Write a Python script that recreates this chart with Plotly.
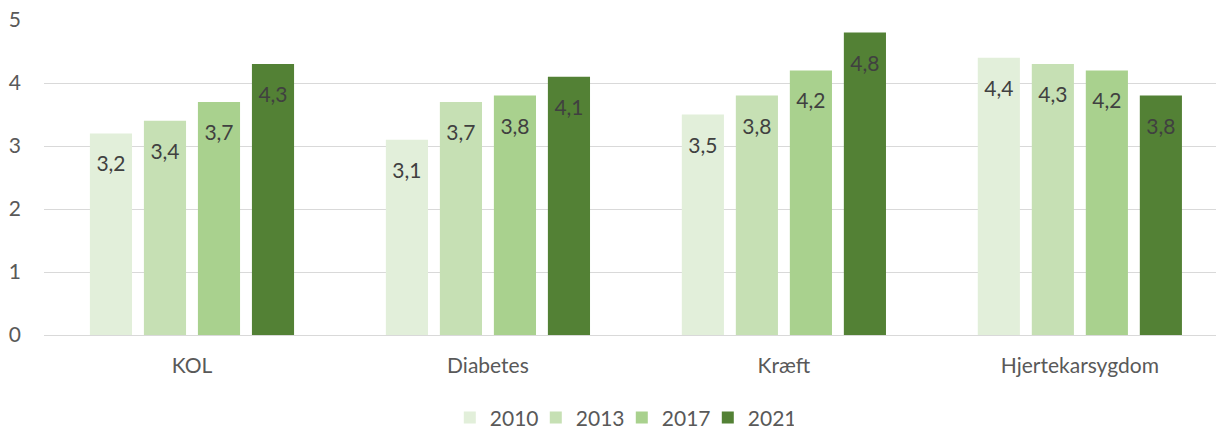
import plotly.graph_objects as go

categories = ["KOL", "Diabetes", "Kræft", "Hjertekarsygdom"]
years = ["2010", "2013", "2017", "2021"]
values_2010 = [3.2, 3.1, 3.5, 4.4]
values_2013 = [3.4, 3.7, 3.8, 4.3]
values_2017 = [3.7, 3.8, 4.2, 4.2]
values_2021 = [4.3, 4.1, 4.8, 3.8]
series = [values_2010, values_2013, values_2017, values_2021]
colors = ["#E2EFDA", "#C6E0B4", "#A9D18E", "#538135"]

FONT = "Lato, 'Open Sans', sans-serif"

fig = go.Figure()
for name, vals, col in zip(years, series, colors):
    fig.add_trace(go.Bar(
        name=name, x=categories, y=vals, offsetgroup=name,
        marker=dict(color=col, line=dict(width=0)),
        hoverinfo="skip",
    ))
for name, vals in zip(years, series):
    fig.add_trace(go.Scatter(
        x=categories, y=vals, offsetgroup=name, mode="markers+text",
        text=[f"{v:.1f}".replace(".", ",") for v in vals],
        textposition="bottom center",
        textfont=dict(color="#404040", size=21, family=FONT),
        marker=dict(size=34, opacity=0),
        showlegend=False, hoverinfo="skip", cliponaxis=False,
    ))

fig.update_layout(
    width=1216, height=429,
    margin=dict(l=44, r=0, t=20, b=94, autoexpand=False),
    paper_bgcolor="white", plot_bgcolor="white",
    barmode="group", bargap=0.27, bargroupgap=0.22,
    scattermode="group", scattergap=0.27,
    font=dict(family=FONT, color="#595959", size=21),
    showlegend=True,
    legend=dict(orientation="h", x=0.493, xanchor="center", y=-0.263,
                yanchor="middle", font=dict(size=21, color="#595959"),
                itemwidth=30, tracegroupgap=0,
                entrywidth=41, entrywidthmode="pixels"),
    xaxis=dict(range=[-0.5, 3.46], showgrid=False, showline=False, zeroline=False,
               ticks="", ticklabelstandoff=16, tickfont=dict(size=21, color="#595959")),
    yaxis=dict(range=[0, 5], dtick=1, showgrid=True, gridcolor="#D9D9D9", gridwidth=1,
               zeroline=True, zerolinecolor="#D9D9D9", zerolinewidth=1, showline=False,
               ticks="", ticklabelstandoff=22, tickfont=dict(size=21, color="#595959")),
)

fig.write_html("out.html", config={"displayModeBar": False},
               post_script="document.body.style.margin='0';")
